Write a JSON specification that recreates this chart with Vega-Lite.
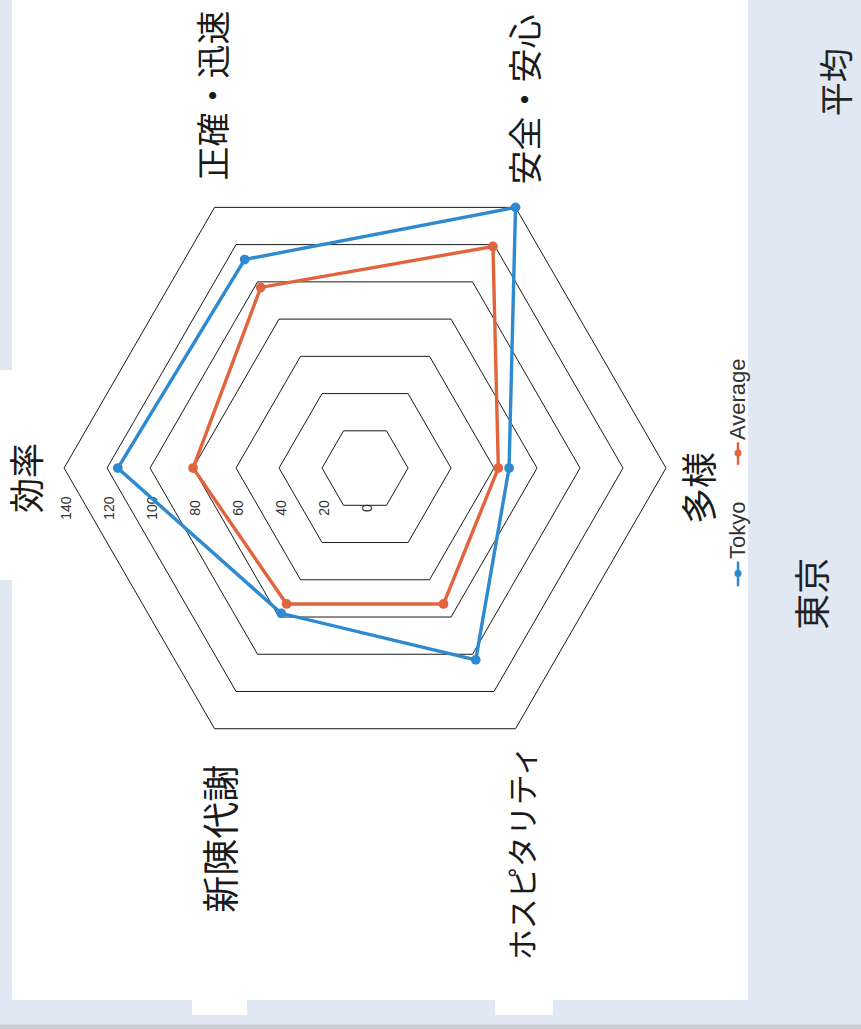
{
  "$schema": "https://vega.github.io/schema/vega-lite/v6.json",
  "width": 861,
  "height": 1029,
  "autosize": {"type": "none"},
  "padding": 0,
  "background": "#dfe8f3",
  "config": {"view": {"stroke": null}},
  "datasets": {
    "scores": [
      {"axis": "効率", "idx": 0, "series": "Tokyo", "value": 115},
      {"axis": "正確・迅速", "idx": 1, "series": "Tokyo", "value": 112},
      {"axis": "安全・安心", "idx": 2, "series": "Tokyo", "value": 140},
      {"axis": "多様", "idx": 3, "series": "Tokyo", "value": 67},
      {"axis": "ホスピタリティ", "idx": 4, "series": "Tokyo", "value": 103},
      {"axis": "新陳代謝", "idx": 5, "series": "Tokyo", "value": 78},
      {"axis": "効率", "idx": 0, "series": "Average", "value": 80},
      {"axis": "正確・迅速", "idx": 1, "series": "Average", "value": 97},
      {"axis": "安全・安心", "idx": 2, "series": "Average", "value": 119},
      {"axis": "多様", "idx": 3, "series": "Average", "value": 62},
      {"axis": "ホスピタリティ", "idx": 4, "series": "Average", "value": 73},
      {"axis": "新陳代謝", "idx": 5, "series": "Average", "value": 73}
    ],
    "grid": [
      {"level": 20, "idx": [0, 1, 2, 3, 4, 5]},
      {"level": 40, "idx": [0, 1, 2, 3, 4, 5]},
      {"level": 60, "idx": [0, 1, 2, 3, 4, 5]},
      {"level": 80, "idx": [0, 1, 2, 3, 4, 5]},
      {"level": 100, "idx": [0, 1, 2, 3, 4, 5]},
      {"level": 120, "idx": [0, 1, 2, 3, 4, 5]},
      {"level": 140, "idx": [0, 1, 2, 3, 4, 5]}
    ],
    "ticks": [
      {"level": 0}, {"level": 20}, {"level": 40}, {"level": 60},
      {"level": 80}, {"level": 100}, {"level": 120}, {"level": 140}
    ],
    "axes": [
      {"axis": "効率", "idx": 0},
      {"axis": "正確・迅速", "idx": 1},
      {"axis": "安全・安心", "idx": 2},
      {"axis": "多様", "idx": 3},
      {"axis": "ホスピタリティ", "idx": 4},
      {"axis": "新陳代謝", "idx": 5}
    ]
  },
  "layer": [
    {
      "data": {"values": [{}]},
      "mark": {"type": "rect", "color": "#ffffff"},
      "encoding": {
        "x": {"datum": -164.2, "type": "quantitative", "scale": {"domain": [-169.8, 230.7], "nice": false, "zero": false}, "axis": null},
        "x2": {"datum": 178.1},
        "y": {"datum": 217.7, "type": "quantitative", "scale": {"domain": [-260.9, 217.7], "nice": false, "zero": false}, "axis": null},
        "y2": {"datum": -247.4}
      }
    },
    {
      "data": {"values": [{}]},
      "mark": {"type": "rect", "color": "#ffffff"},
      "encoding": {
        "x": {"datum": -169.8, "type": "quantitative", "scale": {"domain": [-169.8, 230.7], "nice": false, "zero": false}, "axis": null},
        "x2": {"datum": -164.0},
        "y": {"datum": 45.6, "type": "quantitative", "scale": {"domain": [-260.9, 217.7], "nice": false, "zero": false}, "axis": null},
        "y2": {"datum": -52.1}
      }
    },
    {
      "data": {"values": [{}]},
      "mark": {"type": "rect", "color": "#ffffff"},
      "encoding": {
        "x": {"datum": -80.5, "type": "quantitative", "scale": {"domain": [-169.8, 230.7], "nice": false, "zero": false}, "axis": null},
        "x2": {"datum": -54.9},
        "y": {"datum": -247.0, "type": "quantitative", "scale": {"domain": [-260.9, 217.7], "nice": false, "zero": false}, "axis": null},
        "y2": {"datum": -254.4}
      }
    },
    {
      "data": {"values": [{}]},
      "mark": {"type": "rect", "color": "#ffffff"},
      "encoding": {
        "x": {"datum": 60.5, "type": "quantitative", "scale": {"domain": [-169.8, 230.7], "nice": false, "zero": false}, "axis": null},
        "x2": {"datum": 87.4},
        "y": {"datum": -247.0, "type": "quantitative", "scale": {"domain": [-260.9, 217.7], "nice": false, "zero": false}, "axis": null},
        "y2": {"datum": -254.4}
      }
    },
    {
      "data": {"values": [{}]},
      "mark": {"type": "rect", "color": "#c9cdd2"},
      "encoding": {
        "x": {"datum": -169.8, "type": "quantitative", "scale": {"domain": [-169.8, 230.7], "nice": false, "zero": false}, "axis": null},
        "x2": {"datum": 230.7},
        "y": {"datum": -258.8, "type": "quantitative", "scale": {"domain": [-260.9, 217.7], "nice": false, "zero": false}, "axis": null},
        "y2": {"datum": -260.9}
      }
    },
    {
      "data": {"name": "grid"},
      "transform": [
        {"flatten": ["idx"]},
        {"calculate": "(180 - 60 * datum.idx) * PI / 180", "as": "theta"},
        {"calculate": "datum.level * cos(datum.theta)", "as": "gx"},
        {"calculate": "datum.level * sin(datum.theta)", "as": "gy"}
      ],
      "mark": {"type": "line", "interpolate": "linear-closed", "color": "#1a1a1a", "strokeWidth": 1},
      "encoding": {
        "x": {"field": "gx", "type": "quantitative", "scale": {"domain": [-169.8, 230.7], "nice": false, "zero": false}, "axis": null},
        "y": {"field": "gy", "type": "quantitative", "scale": {"domain": [-260.9, 217.7], "nice": false, "zero": false}, "axis": null},
        "detail": {"field": "level", "type": "nominal"},
        "order": {"field": "idx", "type": "quantitative"}
      }
    },
    {
      "data": {"name": "ticks"},
      "transform": [{"calculate": "-datum.level", "as": "tx"}, {"calculate": "0", "as": "ty"}],
      "mark": {"type": "text", "angle": 270, "align": "center", "baseline": "middle", "dx": -40, "dy": 3, "fontSize": 14, "font": "Liberation Sans", "color": "#333333"},
      "encoding": {
        "x": {"field": "tx", "type": "quantitative", "scale": {"domain": [-169.8, 230.7], "nice": false, "zero": false}, "axis": null},
        "y": {"field": "ty", "type": "quantitative", "scale": {"domain": [-260.9, 217.7], "nice": false, "zero": false}, "axis": null},
        "text": {"field": "level", "type": "quantitative"}
      }
    },
    {
      "data": {"name": "scores"},
      "transform": [
        {"calculate": "(180 - 60 * datum.idx) * PI / 180", "as": "theta"},
        {"calculate": "datum.value * cos(datum.theta)", "as": "px"},
        {"calculate": "datum.value * sin(datum.theta)", "as": "py"}
      ],
      "mark": {"type": "line", "interpolate": "linear-closed", "strokeWidth": 3.4},
      "encoding": {
        "x": {"field": "px", "type": "quantitative", "scale": {"domain": [-169.8, 230.7], "nice": false, "zero": false}, "axis": null},
        "y": {"field": "py", "type": "quantitative", "scale": {"domain": [-260.9, 217.7], "nice": false, "zero": false}, "axis": null},
        "color": {"field": "series", "type": "nominal", "scale": {"domain": ["Tokyo", "Average"], "range": ["#2d89d0", "#e2643c"]}, "legend": null},
        "order": {"field": "idx", "type": "quantitative"}
      }
    },
    {
      "data": {"name": "scores"},
      "transform": [
        {"calculate": "(180 - 60 * datum.idx) * PI / 180", "as": "theta"},
        {"calculate": "datum.value * cos(datum.theta)", "as": "px"},
        {"calculate": "datum.value * sin(datum.theta)", "as": "py"}
      ],
      "mark": {"type": "point", "filled": true, "size": 95, "opacity": 1},
      "encoding": {
        "x": {"field": "px", "type": "quantitative", "scale": {"domain": [-169.8, 230.7], "nice": false, "zero": false}, "axis": null},
        "y": {"field": "py", "type": "quantitative", "scale": {"domain": [-260.9, 217.7], "nice": false, "zero": false}, "axis": null},
        "color": {"field": "series", "type": "nominal", "scale": {"domain": ["Tokyo", "Average"], "range": ["#2d89d0", "#e2643c"]}, "legend": null}
      }
    },
    {
      "data": {"name": "axes"},
      "transform": [
        {"filter": "datum.idx == 0"},
        {"calculate": "(180 - 60 * datum.idx) * PI / 180", "as": "theta"},
        {"calculate": "140 * cos(datum.theta)", "as": "vx"},
        {"calculate": "140 * sin(datum.theta)", "as": "vy"}
      ],
      "mark": {"type": "text", "angle": 270, "align": "center", "baseline": "middle", "dx": -10, "dy": -35, "fontSize": 35, "font": "Noto Sans CJK JP", "color": "#1a1a1a"},
      "encoding": {
        "x": {"field": "vx", "type": "quantitative", "scale": {"domain": [-169.8, 230.7], "nice": false, "zero": false}, "axis": null},
        "y": {"field": "vy", "type": "quantitative", "scale": {"domain": [-260.9, 217.7], "nice": false, "zero": false}, "axis": null},
        "text": {"field": "axis", "type": "nominal"}
      }
    },
    {
      "data": {"name": "axes"},
      "transform": [
        {"filter": "datum.idx == 1"},
        {"calculate": "(180 - 60 * datum.idx) * PI / 180", "as": "theta"},
        {"calculate": "140 * cos(datum.theta)", "as": "vx"},
        {"calculate": "140 * sin(datum.theta)", "as": "vy"}
      ],
      "mark": {"type": "text", "angle": 270, "align": "center", "baseline": "middle", "dx": 112, "dy": 1.5, "fontSize": 34, "font": "Noto Sans CJK JP", "color": "#1a1a1a"},
      "encoding": {
        "x": {"field": "vx", "type": "quantitative", "scale": {"domain": [-169.8, 230.7], "nice": false, "zero": false}, "axis": null},
        "y": {"field": "vy", "type": "quantitative", "scale": {"domain": [-260.9, 217.7], "nice": false, "zero": false}, "axis": null},
        "text": {"field": "axis", "type": "nominal"}
      }
    },
    {
      "data": {"name": "axes"},
      "transform": [
        {"filter": "datum.idx == 2"},
        {"calculate": "(180 - 60 * datum.idx) * PI / 180", "as": "theta"},
        {"calculate": "140 * cos(datum.theta)", "as": "vx"},
        {"calculate": "140 * sin(datum.theta)", "as": "vy"}
      ],
      "mark": {"type": "text", "angle": 270, "align": "center", "baseline": "middle", "dx": 108, "dy": 12.5, "fontSize": 34, "font": "Noto Sans CJK JP", "color": "#1a1a1a"},
      "encoding": {
        "x": {"field": "vx", "type": "quantitative", "scale": {"domain": [-169.8, 230.7], "nice": false, "zero": false}, "axis": null},
        "y": {"field": "vy", "type": "quantitative", "scale": {"domain": [-260.9, 217.7], "nice": false, "zero": false}, "axis": null},
        "text": {"field": "axis", "type": "nominal"}
      }
    },
    {
      "data": {"name": "axes"},
      "transform": [
        {"filter": "datum.idx == 3"},
        {"calculate": "(180 - 60 * datum.idx) * PI / 180", "as": "theta"},
        {"calculate": "140 * cos(datum.theta)", "as": "vx"},
        {"calculate": "140 * sin(datum.theta)", "as": "vy"}
      ],
      "mark": {"type": "text", "angle": 270, "align": "center", "baseline": "middle", "dx": -20, "dy": 36, "fontSize": 36, "font": "Noto Sans CJK JP", "color": "#1a1a1a"},
      "encoding": {
        "x": {"field": "vx", "type": "quantitative", "scale": {"domain": [-169.8, 230.7], "nice": false, "zero": false}, "axis": null},
        "y": {"field": "vy", "type": "quantitative", "scale": {"domain": [-260.9, 217.7], "nice": false, "zero": false}, "axis": null},
        "text": {"field": "axis", "type": "nominal"}
      }
    },
    {
      "data": {"name": "axes"},
      "transform": [
        {"filter": "datum.idx == 4"},
        {"calculate": "(180 - 60 * datum.idx) * PI / 180", "as": "theta"},
        {"calculate": "140 * cos(datum.theta)", "as": "vx"},
        {"calculate": "140 * sin(datum.theta)", "as": "vy"}
      ],
      "mark": {"type": "text", "angle": 270, "align": "center", "baseline": "middle", "dx": -124, "dy": 9.5, "fontSize": 31, "font": "Noto Sans CJK JP", "color": "#1a1a1a"},
      "encoding": {
        "x": {"field": "vx", "type": "quantitative", "scale": {"domain": [-169.8, 230.7], "nice": false, "zero": false}, "axis": null},
        "y": {"field": "vy", "type": "quantitative", "scale": {"domain": [-260.9, 217.7], "nice": false, "zero": false}, "axis": null},
        "text": {"field": "axis", "type": "nominal"}
      }
    },
    {
      "data": {"name": "axes"},
      "transform": [
        {"filter": "datum.idx == 5"},
        {"calculate": "(180 - 60 * datum.idx) * PI / 180", "as": "theta"},
        {"calculate": "140 * cos(datum.theta)", "as": "vx"},
        {"calculate": "140 * sin(datum.theta)", "as": "vy"}
      ],
      "mark": {"type": "text", "angle": 270, "align": "center", "baseline": "middle", "dx": -110, "dy": 9.5, "fontSize": 37, "font": "Noto Sans CJK JP", "color": "#1a1a1a"},
      "encoding": {
        "x": {"field": "vx", "type": "quantitative", "scale": {"domain": [-169.8, 230.7], "nice": false, "zero": false}, "axis": null},
        "y": {"field": "vy", "type": "quantitative", "scale": {"domain": [-260.9, 217.7], "nice": false, "zero": false}, "axis": null},
        "text": {"field": "axis", "type": "nominal"}
      }
    },
    {
      "data": {"values": [{}]},
      "mark": {"type": "rule", "color": "#2d89d0", "strokeWidth": 2.5},
      "encoding": {
        "x": {"datum": 173.5, "type": "quantitative", "scale": {"domain": [-169.8, 230.7], "nice": false, "zero": false}, "axis": null},
        "y": {"datum": -43.5, "type": "quantitative", "scale": {"domain": [-260.9, 217.7], "nice": false, "zero": false}, "axis": null},
        "y2": {"datum": -55.0}
      }
    },
    {
      "data": {"values": [{}]},
      "mark": {"type": "point", "filled": true, "opacity": 1, "size": 50, "color": "#2d89d0"},
      "encoding": {
        "x": {"datum": 173.5, "type": "quantitative", "scale": {"domain": [-169.8, 230.7], "nice": false, "zero": false}, "axis": null},
        "y": {"datum": -49.0, "type": "quantitative", "scale": {"domain": [-260.9, 217.7], "nice": false, "zero": false}, "axis": null}
      }
    },
    {
      "data": {"values": [{}]},
      "mark": {"type": "text", "angle": 270, "align": "left", "baseline": "middle", "fontSize": 22, "font": "Liberation Sans", "color": "#333333", "text": "Tokyo"},
      "encoding": {
        "x": {"datum": 173.5, "type": "quantitative", "scale": {"domain": [-169.8, 230.7], "nice": false, "zero": false}, "axis": null},
        "y": {"datum": -42.3, "type": "quantitative", "scale": {"domain": [-260.9, 217.7], "nice": false, "zero": false}, "axis": null}
      }
    },
    {
      "data": {"values": [{}]},
      "mark": {"type": "rule", "color": "#e2643c", "strokeWidth": 2.5},
      "encoding": {
        "x": {"datum": 173.5, "type": "quantitative", "scale": {"domain": [-169.8, 230.7], "nice": false, "zero": false}, "axis": null},
        "y": {"datum": 12.0, "type": "quantitative", "scale": {"domain": [-260.9, 217.7], "nice": false, "zero": false}, "axis": null},
        "y2": {"datum": 1.5}
      }
    },
    {
      "data": {"values": [{}]},
      "mark": {"type": "point", "filled": true, "opacity": 1, "size": 50, "color": "#e2643c"},
      "encoding": {
        "x": {"datum": 173.5, "type": "quantitative", "scale": {"domain": [-169.8, 230.7], "nice": false, "zero": false}, "axis": null},
        "y": {"datum": 7.0, "type": "quantitative", "scale": {"domain": [-260.9, 217.7], "nice": false, "zero": false}, "axis": null}
      }
    },
    {
      "data": {"values": [{}]},
      "mark": {"type": "text", "angle": 270, "align": "left", "baseline": "middle", "fontSize": 22, "font": "Liberation Sans", "color": "#333333", "text": "Average"},
      "encoding": {
        "x": {"datum": 173.5, "type": "quantitative", "scale": {"domain": [-169.8, 230.7], "nice": false, "zero": false}, "axis": null},
        "y": {"datum": 13.0, "type": "quantitative", "scale": {"domain": [-260.9, 217.7], "nice": false, "zero": false}, "axis": null}
      }
    },
    {
      "data": {"values": [{}]},
      "mark": {"type": "text", "angle": 270, "align": "center", "baseline": "middle", "fontSize": 36, "font": "Noto Sans CJK JP", "color": "#222222", "text": "東京"},
      "encoding": {
        "x": {"datum": 209.3, "type": "quantitative", "scale": {"domain": [-169.8, 230.7], "nice": false, "zero": false}, "axis": null},
        "y": {"datum": -58.5, "type": "quantitative", "scale": {"domain": [-260.9, 217.7], "nice": false, "zero": false}, "axis": null}
      }
    },
    {
      "data": {"values": [{}]},
      "mark": {"type": "text", "angle": 270, "align": "center", "baseline": "middle", "fontSize": 34, "font": "Noto Sans CJK JP", "color": "#222222", "text": "平均"},
      "encoding": {
        "x": {"datum": 220.5, "type": "quantitative", "scale": {"domain": [-169.8, 230.7], "nice": false, "zero": false}, "axis": null},
        "y": {"datum": 179.5, "type": "quantitative", "scale": {"domain": [-260.9, 217.7], "nice": false, "zero": false}, "axis": null}
      }
    }
  ]
}
